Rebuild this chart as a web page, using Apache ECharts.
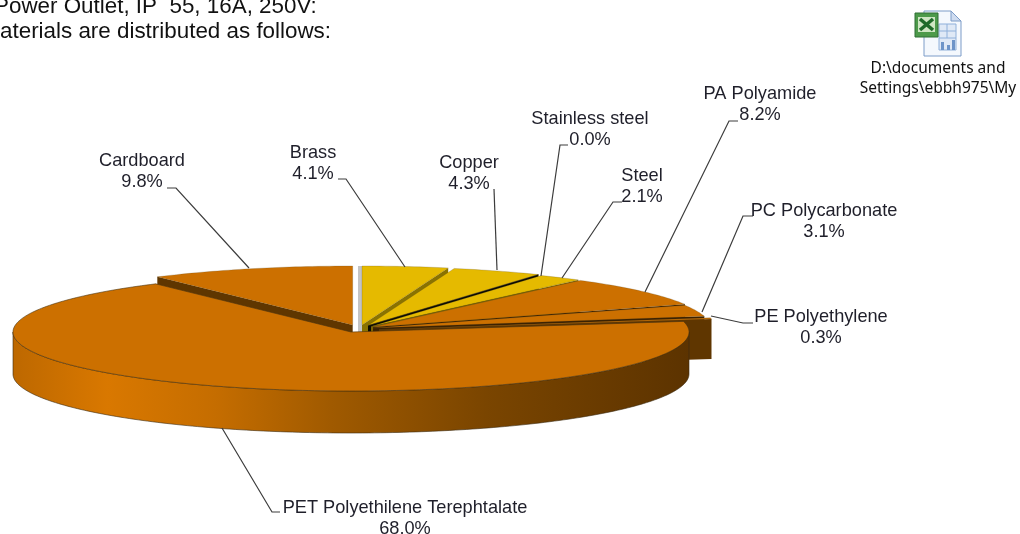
<!DOCTYPE html>
<html><head><meta charset="utf-8">
<style>html,body{margin:0;padding:0;background:#fff;overflow:hidden}#c{width:1020px;height:534px}</style>
<script src="https://cdn.jsdelivr.net/npm/echarts@6/dist/echarts.min.js"></script>
</head><body><div id="c"></div>
<script>
// Data: painted from the back (Cardboard) round clockwise to the front (PET)
const categories = ['Cardboard','Brass','Copper','Stainless steel','Steel','PA Polyamide','PC Polycarbonate','PE Polyethylene','PET Polyethilene Terephtalate'];
const shares = [9.8,4.1,4.3,0.0,2.1,8.2,3.1,0.3,68.0];
// Styles and slice explosion
const topColors  = ['#cc7000','#e5ba00','#e5ba00','#e5ba00','#e5ba00','#cc7000','#cc7000','#cc7000','#cc7000'];
const faceColors = ['#5f3600','#8a7300','#8a7300','#0a0a00','#7d6400','#3a2000','#3a2000','#5f3600','#5f3600'];
const faceDepths = [42,42,42,42,42,42,42,40,42];
const explodeX = [1.7,11,17,17,20,22,22,28,0];
const explodeY = [-7,-7,-6.5,-6.5,-5.5,-5,-4,-2.5,0];
const labelCenters = [[142,171],[313,163],[469,173],[590,129],[642,186],[760,104],[824,221],[821,327],[405,518]];
const leaderPaths = [
 [[167,188],[176,188],[249,268]],
 [[338,179],[346,179],[405,267]],
 [[494,189],[497,270]],
 [[568,145],[560,145],[541,276]],
 [[622,202],[613,202],[562,278]],
 [[738,121],[729,121],[645,292]],
 [[753,216],[743,216],[702,312]],
 [[753,323],[743,323],[711,316]],
 [[280,512],[272,512],[222,428]]
];
const CX = 351, CY = 332, RX = 338, RY = 59, H = 42;
const wallStops = [[0,'#bd6800'],[0.14,'#d97800'],[0.3,'#c56d00'],[0.47,'#a05a00'],[0.7,'#7a4500'],[1,'#5c3300']];

const total = shares.reduce((a,b)=>a+b,0);
const startAngle = -shares[0]/total*360;
function pt(cx,cy,deg,dy){const r=deg*Math.PI/180;return [cx+RX*Math.sin(r),cy-RY*Math.cos(r)+(dy||0)];}
function arc(cx,cy,a,b,dy){const n=Math.max(2,Math.ceil(Math.abs(b-a)));const p=[];for(let i=0;i<=n;i++)p.push(pt(cx,cy,a+(b-a)*i/n,dy));return p;}

function renderSlice(params, api){
  const i = params.dataIndex, v = api.value(1);
  let before = 0; for(let k=0;k<i;k++) before += shares[k];
  const a0 = startAngle + before/total*360, a1 = a0 + v/total*360;
  const cx = CX+explodeX[i], cy = CY+explodeY[i];
  const kids = [];
  // the visible cut face: the counter-clockwise one on the back-left slice, else the clockwise one
  const e = pt(cx,cy,i===0?a0:a1), d = faceDepths[i];
  kids.push({type:'polygon',shape:{points:[[cx,cy],e,[e[0],e[1]+d],[cx,cy+d]]},style:{fill:faceColors[i]}});
  if(i===categories.length-1){
    // outer wall of the front slice, from the left extreme to the right extreme
    const wall = arc(cx,cy,90,270).concat(arc(cx,cy,270,90,H));
    kids.push({type:'polygon',shape:{points:wall},style:{
      fill:{type:'linear',x:0,y:0,x2:1,y2:0,colorStops:wallStops.map(s=>({offset:s[0],color:s[1]}))},
      stroke:'#3a2a10',lineWidth:0.6}});
  }
  if(i===1){
    kids.push({type:'rect',shape:{x:cx-4,y:cy-RY,width:4,height:RY+7},style:{fill:'#c4c4c4'}});
  }
  const top = [[cx,cy]].concat(arc(cx,cy,a0,a1));
  kids.push({type:'polygon',shape:{points:top},style:{fill:topColors[i],stroke:i===8?'#4a3410':'rgba(90,70,30,0.45)',lineWidth:i===8?0.6:0.5}});
  return {type:'group',children:kids};
}
function renderLabel(params, api){
  const i = params.dataIndex;
  const c = labelCenters[i];
  return {type:'group',children:[
    {type:'polyline',shape:{points:leaderPaths[i]},style:{fill:'none',stroke:'#3c3c3c',lineWidth:1.2}},
    {type:'text',x:c[0],y:c[1],style:{text:categories[i]+'\n'+api.value(1).toFixed(1)+'%',
      align:'center',verticalAlign:'middle',font:'18.2px "Liberation Sans"',lineHeight:21,fill:'#1f1f2a'}}
  ]};
}
const data = categories.map((n,i)=>[n,shares[i]]);
const chart = echarts.init(document.getElementById('c'),null,{renderer:'canvas'});
chart.setOption({
  animation:false,
  backgroundColor:'#fff',
  series:[
    {type:'custom',coordinateSystem:'none',renderItem:renderSlice,data:data,silent:true,z:2},
    {type:'custom',coordinateSystem:'none',renderItem:renderLabel,data:data,silent:true,z:3}
  ],
  graphic:[
    {type:'text',x:-6,y:7,style:{text:'Power Outlet, IP  55, 16A, 250V:',font:'22.4px "Liberation Sans"',fill:'#111',verticalAlign:'middle'}},
    {type:'text',x:0,y:32,style:{text:'aterials are distributed as follows:',font:'22.4px "Liberation Sans"',fill:'#111',verticalAlign:'middle'}},
    {type:'polygon',shape:{points:[[924,11],[951,11],[961,21],[961,56],[924,56]]},style:{fill:'#f4f8fd',stroke:'#7d9cc8',lineWidth:1}},
    {type:'polygon',shape:{points:[[951,11],[951,21],[961,21]]},style:{fill:'#cfdcf0',stroke:'#7d9cc8',lineWidth:1}},
    {type:'rect',shape:{x:939,y:24,width:17,height:26},style:{fill:'#dfe9f6',stroke:'#8fb0da',lineWidth:1}},
    {type:'line',shape:{x1:939,y1:31,x2:956,y2:31},style:{stroke:'#8fb0da'}},
    {type:'line',shape:{x1:939,y1:38,x2:956,y2:38},style:{stroke:'#8fb0da'}},
    {type:'line',shape:{x1:947,y1:24,x2:947,y2:38},style:{stroke:'#8fb0da'}},
    {type:'rect',shape:{x:941,y:42,width:3,height:8},style:{fill:'#6d94c8'}},
    {type:'rect',shape:{x:947,y:45,width:3,height:5},style:{fill:'#6d94c8'}},
    {type:'rect',shape:{x:952,y:40,width:3,height:10},style:{fill:'#6d94c8'}},
    {type:'rect',shape:{x:915,y:13,width:23,height:24},style:{fill:'#4d9a4a',stroke:'#2f6e35',lineWidth:1}},
    {type:'rect',shape:{x:918,y:17,width:17,height:15},style:{fill:'#cfe6c4'}},
    {type:'polyline',shape:{points:[[920,19],[933,30]]},style:{stroke:'#1f6b2a',lineWidth:3.5,fill:'none'}},
    {type:'polyline',shape:{points:[[933,19],[920,30]]},style:{stroke:'#1f6b2a',lineWidth:3.5,fill:'none'}},
    {type:'text',x:938,y:69,style:{text:'D:\\documents and',align:'center',verticalAlign:'middle',font:'15.5px "Noto Sans"',fill:'#111'}},
    {type:'text',x:938,y:89,style:{text:'Settings\\ebbh975\\My',align:'center',verticalAlign:'middle',font:'15.5px "Noto Sans"',fill:'#111'}}
  ]
});
</script></body></html>
